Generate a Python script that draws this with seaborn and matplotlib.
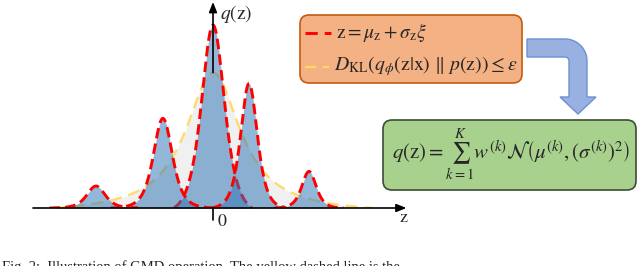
import numpy as np
import matplotlib
matplotlib.use("Agg")
import matplotlib.pyplot as plt
import seaborn as sns
from matplotlib.patches import FancyBboxPatch, Polygon
from matplotlib.lines import Line2D

# mixture components (z units, q units)
comp_means = [0.0, -1.67, 1.2, -3.9, 3.2]
comp_heights = [1.0, 0.49, 0.68, 0.12, 0.20]
comp_widths = [0.80, 0.66, 0.58, 0.64, 0.50]
comp_spans = [1.3, 1.75, 1.25, 1.55, 1.15]

# broad prior (yellow dashed)
prior_mean = 0.0
prior_height = 0.74
prior_width = 1.1
prior_span = 5.3

legend_texts = [
    r"$\mathrm{z} = \mu_{\mathrm{z}} + \sigma_{\mathrm{z}}\xi$",
    r"$D_{\mathrm{KL}}\left(q_{\phi}(\mathrm{z}|\mathrm{x})\ \Vert\ p(\mathrm{z})\right) \leq \varepsilon$",
]
mixture_text = r"$q(\mathrm{z}) = \sum_{k=1}^{K} w^{(k)}\mathcal{N}\left(\mu^{(k)}, (\sigma^{(k)})^2\right)$"
caption = "Fig. 2:  Illustration of GMD operation. The yellow dashed line is the"


def bump(z, m, h, s, L, a=2.5):
    r = (1 + ((z - m) / s) ** 2) ** (-a)
    c = (1 + (L / s) ** 2) ** (-a)
    return h * np.clip((r - c) / (1 - c), 0, None)


sns.set_theme(style="white")
plt.rcParams["font.family"] = ["STIXGeneral", "DejaVu Sans"]
plt.rcParams["mathtext.fontset"] = "stix"

fig = plt.figure(figsize=(6.38, 2.66), dpi=100)
ax = fig.add_axes([33 / 638, 58 / 266, 372 / 638, 206 / 266])
ax.set_xlim(-6, 6.4)
ax.set_ylim(0, 206 / 183)
ax.axis("off")

red = "#ff0000"
blue = "#2e75b6"
yellow = "#ffd966"

# prior
zp = np.linspace(prior_mean - prior_span, prior_mean + prior_span, 600)
yp = bump(zp, prior_mean, prior_height, prior_width, prior_span, a=1.0)
ax.fill_between(zp, 0, yp, color="#f0f0f0", lw=0, zorder=1)
sns.lineplot(x=zp, y=yp, ax=ax, color=yellow, linewidth=1.7,
             linestyle=(0, (5, 3)), alpha=0.95, zorder=2)

# components
for i, (m, h, s, L) in enumerate(zip(comp_means, comp_heights, comp_widths, comp_spans)):
    z = np.linspace(m - L, m + L, 400)
    y = bump(z, m, h, s, L)
    ax.fill_between(z, 0, y, color=blue, alpha=0.52, lw=0, zorder=3 + 2 * i)
    sns.lineplot(x=z, y=y, ax=ax, color=red, linewidth=2.1,
                 linestyle=(0, (3.6, 1.8)), zorder=4 + 2 * i)

# axes arrows
ax.annotate("", xy=(6.45, 0), xytext=(-6, 0),
            arrowprops=dict(arrowstyle="-|>,head_length=0.5,head_width=0.2",
                            color="black", lw=1.2, shrinkA=0, shrinkB=0),
            zorder=20, annotation_clip=False)
ax.annotate("", xy=(0, 206 / 183), xytext=(0, prior_height),
            arrowprops=dict(arrowstyle="-|>,head_length=0.5,head_width=0.2",
                            color="black", lw=1.2, shrinkA=0, shrinkB=0),
            zorder=20, annotation_clip=False)
ax.plot([0, 0], [0, -12 / 183], color="black", lw=1.2, clip_on=False, zorder=20)

# overlay in pixel coordinates
ov = fig.add_axes([0, 0, 1, 1])
ov.set_xlim(0, 638)
ov.set_ylim(266, 0)
ov.axis("off")
ov.patch.set_alpha(0)

ov.text(220, 14, r"$q(\mathrm{z})$", fontsize=14, va="center", ha="left")
ov.text(218, 222, "0", fontsize=13, va="center", ha="left")
ov.text(403, 218, "z", fontsize=13, va="center", ha="center")

ov.add_patch(FancyBboxPatch((300, 15), 222, 68, boxstyle="round,pad=0,rounding_size=9",
                            fc="#f4b183", ec="#c55a11", lw=1.2))
ov.add_line(Line2D([305, 331], [33, 33], color=red, lw=2.1, linestyle=(0, (4.2, 2.4))))
ov.add_line(Line2D([305, 329], [67, 67], color=yellow, lw=1.6, linestyle=(0, (5, 3))))
ov.text(336, 33, legend_texts[0], fontsize=14, va="center", ha="left")
ov.text(334, 66, legend_texts[1], fontsize=14.2, va="center", ha="left")

# curved arrow
pts = [(527, 39)]
for t in np.linspace(np.pi / 2, 0, 20):
    pts.append((565 + 22 * np.cos(t), 61 - 22 * np.sin(t)))
pts += [(587, 97), (596, 97), (578, 114), (560, 97), (569, 97)]
for t in np.linspace(0, np.pi / 2, 10):
    pts.append((565 + 4 * np.cos(t), 61 - 4 * np.sin(t)))
pts.append((527, 57))
ov.add_patch(Polygon(pts, closed=True, fc="#98b1e1", ec="#6e8fd2", lw=1.0))

ov.add_patch(FancyBboxPatch((383, 120), 253, 70, boxstyle="round,pad=0,rounding_size=9",
                            fc="#a9d18e", ec="#3b4d35", lw=1.2))
ov.text(511, 155, mixture_text, fontsize=15, va="center", ha="center")

ov.text(2, 260, caption, fontsize=10.5, family="Liberation Serif", va="top", ha="left",
        color="#222222")

fig.savefig("out.png", dpi=100)
